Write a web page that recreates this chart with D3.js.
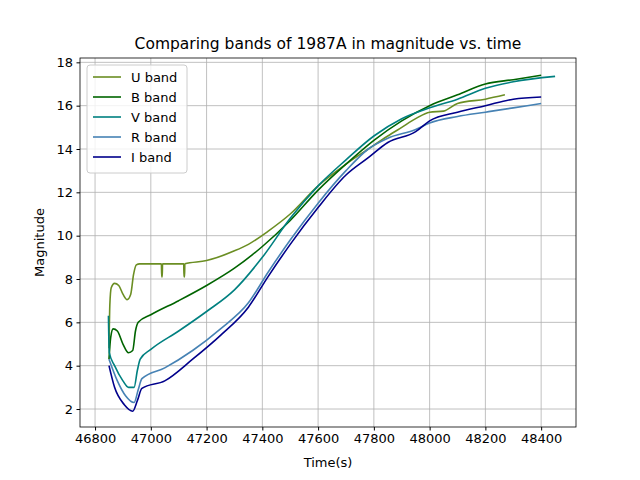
<!DOCTYPE html>
<html><head><meta charset="utf-8">
<script src="https://cdn.jsdelivr.net/npm/d3@7"></script>
<style>body{margin:0;background:#fff}text{font-family:"DejaVu Sans",sans-serif}</style>
</head><body><svg id="c" width="640" height="480"></svg>
<script>
var bandNames = ['U band', 'B band', 'V band', 'R band', 'I band']
var bandColors = ['#6b8e23', '#006400', '#008080', '#4682b4', '#00008b']
var uBand = [[46850,4.8],[46853,6.8],[46858,7.6],[46870,7.8],[46885,7.7],[46900,7.3],[46915,7.05],[46928,7.3],[46938,8.2],[46948,8.65],[46960,8.7],[47038,8.7],[47039,8.1],[47041,8.1],[47042,8.7],[47118,8.7],[47119,8.1],[47121,8.1],[47122,8.7],[47200,8.85],[47300,9.3],[47350,9.6],[47420,10.2],[47500,11.0],[47600,12.3],[47700,13.3],[47780,14.0],[47850,14.6],[47900,15.0],[47950,15.4],[48000,15.7],[48050,15.75],[48100,16.1],[48200,16.3],[48270,16.5]]
var bBand = [[46850,4.3],[46856,5.3],[46865,5.7],[46880,5.6],[46900,5.0],[46920,4.6],[46935,4.7],[46945,5.6],[46955,6.0],[47000,6.35],[47100,7.0],[47200,7.7],[47300,8.5],[47400,9.5],[47500,10.7],[47600,12.1],[47700,13.3],[47800,14.4],[47900,15.3],[48000,16.0],[48100,16.5],[48200,17.0],[48300,17.2],[48400,17.4]]
var vBand = [[46848,6.3],[46851,4.6],[46870,4.0],[46900,3.3],[46920,3.0],[46940,3.0],[46952,3.8],[46962,4.3],[47000,4.75],[47100,5.6],[47200,6.5],[47300,7.5],[47400,9.0],[47500,10.8],[47600,12.3],[47700,13.5],[47800,14.6],[47900,15.4],[48000,15.9],[48100,16.3],[48200,16.8],[48300,17.1],[48450,17.35]]
var rBand = [[46850,4.3],[46880,3.3],[46910,2.6],[46940,2.3],[46955,2.9],[46968,3.4],[47050,3.9],[47150,4.7],[47250,5.7],[47350,6.9],[47420,8.3],[47500,9.8],[47600,11.5],[47700,13.0],[47780,14.0],[47850,14.5],[47950,14.9],[48000,15.2],[48100,15.5],[48200,15.7],[48300,15.9],[48400,16.1]]
var iBand = [[46850,4.0],[46870,3.0],[46905,2.2],[46935,1.9],[46952,2.4],[46968,2.95],[47050,3.3],[47150,4.3],[47250,5.4],[47350,6.7],[47420,8.1],[47500,9.6],[47600,11.3],[47700,12.8],[47780,13.6],[47850,14.3],[47950,14.8],[48000,15.3],[48100,15.7],[48200,16.0],[48300,16.3],[48400,16.4]]
var xTicks = [46800,47000,47200,47400,47600,47800,48000,48200,48400]
var yTicks = [2,4,6,8,10,12,14,16,18]

var svg = d3.select('#c')
var m = {l: 80, r: 576, t: 58, b: 427}
var x = d3.scaleLinear().domain([46746, 48525]).range([m.l, m.r])
var y = d3.scaleLinear().domain([1.17, 18.2]).range([m.b, m.t])

// grid
svg.append('g').selectAll('line').data(xTicks).join('line')
  .attr('x1', d => x(d)).attr('x2', d => x(d)).attr('y1', m.t).attr('y2', m.b)
  .attr('stroke', '#b0b0b0').attr('stroke-width', 0.8)
svg.append('g').selectAll('line').data(yTicks).join('line')
  .attr('y1', d => y(d)).attr('y2', d => y(d)).attr('x1', m.l).attr('x2', m.r)
  .attr('stroke', '#b0b0b0').attr('stroke-width', 0.8)

var xa = svg.append('g').attr('transform', 'translate(0,' + m.b + ')')
  .call(d3.axisBottom(x).tickValues(xTicks).tickFormat(d3.format('d')).tickSize(3.5).tickPadding(3.5))
var ya = svg.append('g').attr('transform', 'translate(' + m.l + ',0)')
  .call(d3.axisLeft(y).tickValues(yTicks).tickSize(3.5).tickPadding(3.5))
;[xa, ya].forEach(function (a) {
  a.select('.domain').remove()
  a.selectAll('text').attr('font-size', 13).attr('fill', '#000').style('font-family', 'DejaVu Sans')
})

var line = d3.line().x(d => x(d[0])).y(d => y(d[1])).curve(d3.curveMonotoneX)
var bands = [uBand, bBand, vBand, rBand, iBand]
bands.forEach(function (b, i) {
  svg.append('path').attr('d', line(b)).attr('fill', 'none')
    .attr('stroke', bandColors[i]).attr('stroke-width', 1.6)
})

svg.append('rect').attr('x', m.l).attr('y', m.t).attr('width', m.r - m.l).attr('height', m.b - m.t)
  .attr('fill', 'none').attr('stroke', '#000').attr('stroke-width', 0.8)

svg.append('text').attr('x', (m.l + m.r) / 2).attr('y', 49).attr('text-anchor', 'middle')
  .attr('font-size', 15.5).text('Comparing bands of 1987A in magnitude vs. time')
svg.append('text').attr('x', (m.l + m.r) / 2).attr('y', 467).attr('text-anchor', 'middle')
  .attr('font-size', 13).text('Time(s)')
svg.append('text').attr('transform', 'translate(44,' + ((m.t + m.b) / 2) + ') rotate(-90)')
  .attr('text-anchor', 'middle').attr('font-size', 13).text('Magnitude')

var lg = svg.append('g').attr('transform', 'translate(87,65)')
lg.append('rect').attr('width', 100).attr('height', 108).attr('rx', 3)
  .attr('fill', '#fff').attr('fill-opacity', 0.8).attr('stroke', '#ccc')
bandNames.forEach(function (n, i) {
  var yy = 12 + i * 20
  lg.append('line').attr('x1', 6).attr('x2', 34).attr('y1', yy).attr('y2', yy)
    .attr('stroke', bandColors[i]).attr('stroke-width', 1.6)
  lg.append('text').attr('x', 44).attr('y', yy + 4.5).attr('font-size', 13).text(n)
})
</script></body></html>
